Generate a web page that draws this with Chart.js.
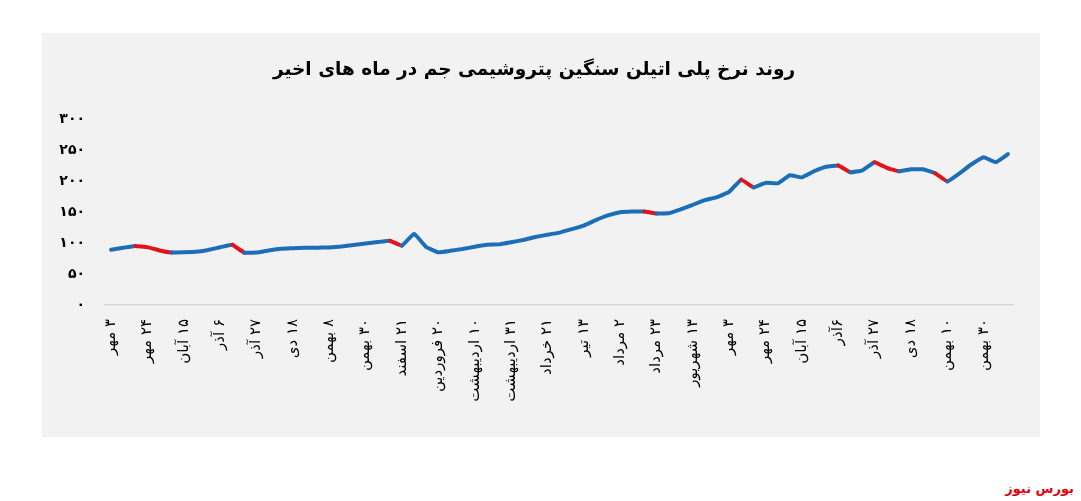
<!DOCTYPE html>
<html>
<head>
<meta charset="utf-8">
<script src="https://cdn.jsdelivr.net/npm/chart.js@4/dist/chart.umd.min.js"></script>
<style>
  body { margin: 0; background: #fff; width: 1081px; height: 501px; position: relative; overflow: hidden; }
  #panel { position: absolute; left: 42px; top: 33px; width: 998px; height: 404px; background: #f2f2f2; }
  #brand { position: absolute; right: 7px; top: 481px; color: #e3000f; font: bold 13px "DejaVu Sans", sans-serif; direction: rtl; }
</style>
</head>
<body>
<div id="panel"><canvas id="canvas1" width="998" height="404" dir="rtl"></canvas></div>
<div id="brand">بورس نیوز</div>
<script>
const ctx = document.getElementById('canvas1').getContext('2d')

const title = 'روند نرخ پلی اتیلن سنگین پتروشیمی جم در ماه های اخیر'

// one label every 3 weeks
const tickLabels = ['۳ مهر', '۲۴ مهر', '۱۵ آبان', '۶ آذر', '۲۷ آذر', '۱۸ دی', '۸ بهمن', '۳۰ بهمن',
  '۲۱ اسفند', '۲۰ فروردین', '۱۰ اردیبهشت', '۳۱ اردیبهشت', '۲۱ خرداد', '۱۳ تیر', '۲ مرداد',
  '۲۳ مرداد', '۱۳ شهریور', '۳ مهر', '۲۴ مهر', '۱۵ آبان', '۶آذر', '۲۷ آذر', '۱۸ دی', '۱۰ بهمن', '۳۰ بهمن']

// weekly price
const prices = [89.3, 92.5, 95.4, 93.4, 88.1, 84.8, 85.2, 85.9, 88.9, 93.2,
  97.4, 84.4, 84.6, 88.0, 90.9, 91.7, 92.5, 92.6, 93.0, 94.6,
  97.0, 99.3, 101.6, 103.9, 95.8, 115.2, 93.6, 85.0, 87.5, 90.5,
  94.0, 97.4, 97.9, 101.3, 105.0, 109.9, 113.3, 116.9, 122.5, 128.2,
  137.1, 144.6, 149.6, 150.9, 150.9, 147.7, 148.0, 154.3, 161.8, 169.4,
  174.3, 182.7, 202.4, 189.9, 197.2, 196.4, 209.4, 206.1, 215.9, 223.2,
  225.3, 214.2, 217.5, 230.5, 221.5, 215.9, 219.1, 219.1, 212.6, 199.6,
  212.6, 227.2, 238.6, 230.5, 243.5]

// weeks drawn in red
const redSegments = [2, 3, 4, 10, 23, 44, 52, 60, 63, 64, 68]

const labels = prices.map((p, i) => i % 3 === 0 ? tickLabels[i / 3] : '')
const faDigits = n => String(n).replace(/\d/g, d => '۰۱۲۳۴۵۶۷۸۹'[d])

new Chart(ctx, {
  type: 'line',
  data: {
    labels,
    datasets: [{
      data: prices,
      borderColor: '#1c6fb7',
      borderWidth: 4,
      pointRadius: 0,
      tension: 0.08,
      borderJoinStyle: 'round',
      borderCapStyle: 'round',
      segment: {
        borderColor: s => redSegments.includes(s.p0DataIndex) ? '#e3131b' : '#1c6fb7'
      }
    }]
  },
  options: {
    responsive: false,
    animation: false,
    layout: { padding: { left: 0, right: 14, top: 0, bottom: 0 } },
    plugins: {
      legend: { display: false },
      tooltip: { enabled: false },
      title: {
        display: true,
        text: title,
        color: '#000',
        font: { family: 'DejaVu Sans', size: 18.5, weight: 'bold' },
        padding: { top: 26, bottom: 38 }
      }
    },
    scales: {
      x: {
        offset: true,
        grid: { display: false, drawTicks: false },
        border: { display: true, color: '#d6d6d6', width: 1.5 },
        ticks: {
          autoSkip: false,
          minRotation: 90,
          maxRotation: 90,
          padding: 14,
          color: '#000',
          font: { family: 'DejaVu Sans', size: 15 }
        },
        afterFit: scale => { scale.height = 132 }
      },
      y: {
        min: 0,
        max: 300,
        grid: { display: false, drawTicks: false },
        border: { display: false },
        ticks: {
          stepSize: 50,
          padding: 20,
          color: '#000',
          font: { family: 'DejaVu Sans', size: 14, weight: 'bold' },
          callback: v => faDigits(v)
        },
        afterFit: scale => { scale.width = 63 }
      }
    }
  }
})
</script>
</body>
</html>
